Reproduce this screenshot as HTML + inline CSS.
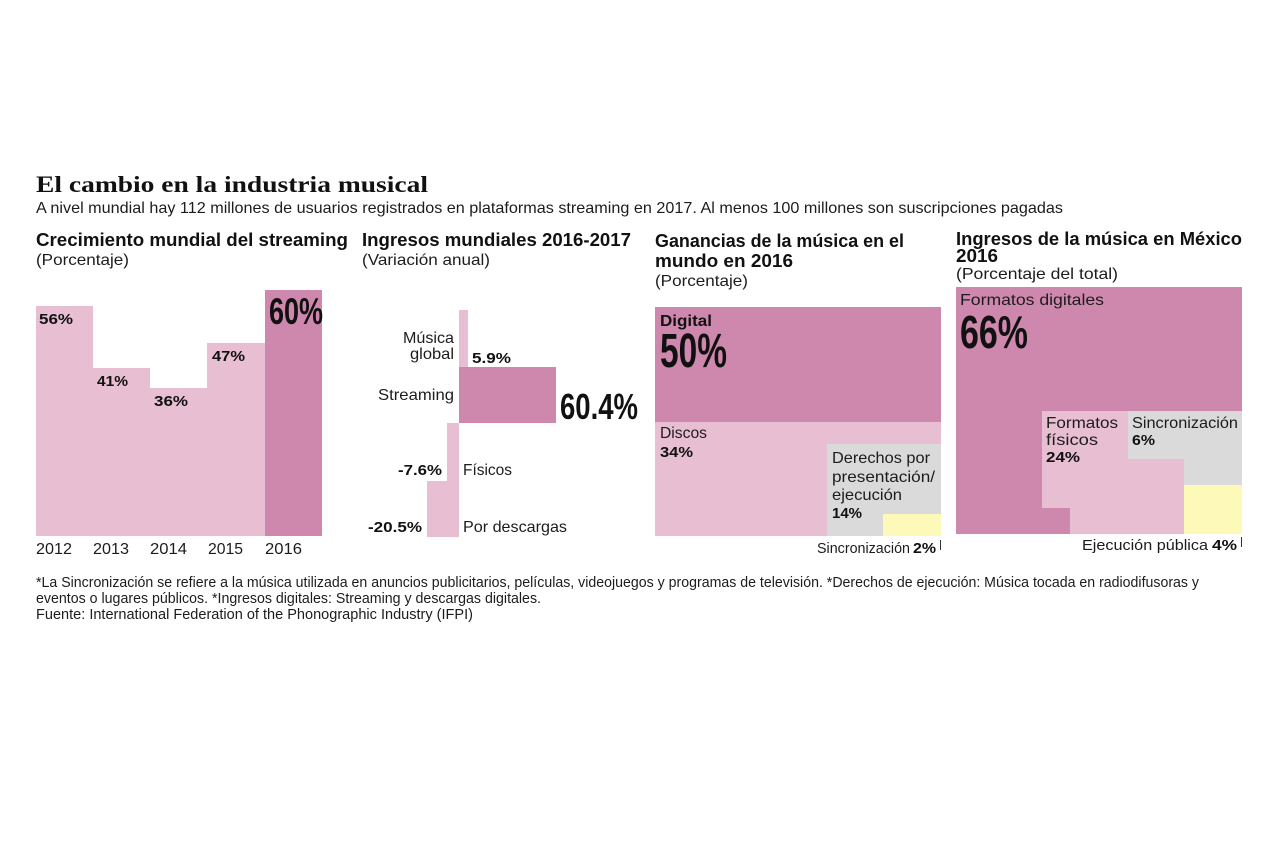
<!DOCTYPE html>
<html>
<head>
<meta charset="utf-8">
<style>
html,body{margin:0;padding:0;background:#fff;}
svg{display:block;}
.s{font-family:"Liberation Sans",sans-serif;fill:#1c1c1c;}
.b{font-family:"Liberation Sans",sans-serif;font-weight:bold;fill:#111;}
.c{font-family:"Liberation Sans Narrow","Liberation Sans",sans-serif;font-weight:bold;fill:#111;}
.t{font-family:"Liberation Serif",serif;font-weight:bold;fill:#111;}
</style>
</head>
<body>
<svg width="1280" height="853" viewBox="0 0 1280 853" xmlns="http://www.w3.org/2000/svg">
<rect width="1280" height="853" fill="#fff"/>

<!-- Title -->
<text class="t" x="36" y="192" font-size="23" textLength="392" lengthAdjust="spacingAndGlyphs">El cambio en la industria musical</text>
<text class="s" x="36" y="213" font-size="16" textLength="1027" lengthAdjust="spacingAndGlyphs">A nivel mundial hay 112 millones de usuarios registrados en plataformas streaming en 2017. Al menos 100 millones son suscripciones pagadas</text>

<!-- Headings -->
<text class="b" x="36" y="246" font-size="18" textLength="312" lengthAdjust="spacingAndGlyphs">Crecimiento mundial del streaming</text>
<text class="s" x="36" y="265" font-size="16" textLength="93" lengthAdjust="spacingAndGlyphs">(Porcentaje)</text>

<text class="b" x="362" y="246" font-size="18" textLength="269" lengthAdjust="spacingAndGlyphs">Ingresos mundiales 2016-2017</text>
<text class="s" x="362" y="265" font-size="16" textLength="128" lengthAdjust="spacingAndGlyphs">(Variación anual)</text>

<text class="b" x="655" y="247" font-size="18" textLength="249" lengthAdjust="spacingAndGlyphs">Ganancias de la música en el</text>
<text class="b" x="655" y="267" font-size="18" textLength="138" lengthAdjust="spacingAndGlyphs">mundo en 2016</text>
<text class="s" x="655" y="286" font-size="16" textLength="93" lengthAdjust="spacingAndGlyphs">(Porcentaje)</text>

<text class="b" x="956" y="245" font-size="18" textLength="286" lengthAdjust="spacingAndGlyphs">Ingresos de la música en México</text>
<text class="b" x="956" y="262" font-size="18" textLength="42" lengthAdjust="spacingAndGlyphs">2016</text>
<text class="s" x="956" y="279" font-size="16" textLength="162" lengthAdjust="spacingAndGlyphs">(Porcentaje del total)</text>

<!-- Chart 1 -->
<rect x="36" y="306" width="57" height="230" fill="#e8bed3"/>
<rect x="93" y="368" width="57" height="168" fill="#e8bed3"/>
<rect x="150" y="388" width="57" height="148" fill="#e8bed3"/>
<rect x="207" y="343" width="58" height="193" fill="#e8bed3"/>
<rect x="265" y="290" width="57" height="246" fill="#cf88ad"/>
<text class="b" x="39" y="324" font-size="15" textLength="34" lengthAdjust="spacingAndGlyphs">56%</text>
<text class="b" x="97" y="386" font-size="15" textLength="31" lengthAdjust="spacingAndGlyphs">41%</text>
<text class="b" x="154" y="406" font-size="15" textLength="34" lengthAdjust="spacingAndGlyphs">36%</text>
<text class="b" x="212" y="361" font-size="15" textLength="33" lengthAdjust="spacingAndGlyphs">47%</text>
<text class="c" x="269" y="324" font-size="37" textLength="54" lengthAdjust="spacingAndGlyphs">60%</text>
<text class="s" x="36" y="554" font-size="16" textLength="36" lengthAdjust="spacingAndGlyphs">2012</text>
<text class="s" x="93" y="554" font-size="16" textLength="36" lengthAdjust="spacingAndGlyphs">2013</text>
<text class="s" x="150" y="554" font-size="16" textLength="37" lengthAdjust="spacingAndGlyphs">2014</text>
<text class="s" x="208" y="554" font-size="16" textLength="35" lengthAdjust="spacingAndGlyphs">2015</text>
<text class="s" x="265" y="554" font-size="16" textLength="37" lengthAdjust="spacingAndGlyphs">2016</text>

<!-- Chart 2 -->
<rect x="459" y="310" width="9" height="57" fill="#e8bed3"/>
<rect x="459" y="367" width="97" height="56" fill="#cf88ad"/>
<rect x="447" y="423" width="12" height="58" fill="#e8bed3"/>
<rect x="427" y="481" width="32" height="56" fill="#e8bed3"/>
<text class="s" x="403" y="343" font-size="16" textLength="51" lengthAdjust="spacingAndGlyphs">Música</text>
<text class="s" x="410" y="359" font-size="16" textLength="44" lengthAdjust="spacingAndGlyphs">global</text>
<text class="b" x="472" y="363" font-size="15" textLength="39" lengthAdjust="spacingAndGlyphs">5.9%</text>
<text class="s" x="378" y="400" font-size="16" textLength="76" lengthAdjust="spacingAndGlyphs">Streaming</text>
<text class="c" x="560" y="419" font-size="36" textLength="78" lengthAdjust="spacingAndGlyphs">60.4%</text>
<text class="b" x="398" y="475" font-size="15" textLength="44" lengthAdjust="spacingAndGlyphs">-7.6%</text>
<text class="s" x="463" y="475" font-size="16" textLength="49" lengthAdjust="spacingAndGlyphs">Físicos</text>
<text class="b" x="368" y="532" font-size="15" textLength="54" lengthAdjust="spacingAndGlyphs">-20.5%</text>
<text class="s" x="463" y="532" font-size="16" textLength="104" lengthAdjust="spacingAndGlyphs">Por descargas</text>

<!-- Chart 3 -->
<rect x="655" y="307" width="286" height="115" fill="#cf88ad"/>
<rect x="655" y="422" width="286" height="114" fill="#e8bed3"/>
<rect x="827" y="444" width="114" height="92" fill="#dadada"/>
<rect x="883" y="514" width="58" height="22" fill="#fdf9b8"/>
<line x1="940.5" y1="540" x2="940.5" y2="550" stroke="#333" stroke-width="1"/>
<text class="b" x="660" y="326" font-size="16" textLength="52" lengthAdjust="spacingAndGlyphs">Digital</text>
<text class="c" x="660" y="367" font-size="48" textLength="67" lengthAdjust="spacingAndGlyphs">50%</text>
<text class="s" x="660" y="438" font-size="16" textLength="47" lengthAdjust="spacingAndGlyphs">Discos</text>
<text class="b" x="660" y="457" font-size="15" textLength="33" lengthAdjust="spacingAndGlyphs">34%</text>
<text class="s" x="832" y="463" font-size="16" textLength="98" lengthAdjust="spacingAndGlyphs">Derechos por</text>
<text class="s" x="832" y="482" font-size="16" textLength="103" lengthAdjust="spacingAndGlyphs">presentación/</text>
<text class="s" x="832" y="500" font-size="16" textLength="70" lengthAdjust="spacingAndGlyphs">ejecución</text>
<text class="b" x="832" y="518" font-size="15" textLength="30" lengthAdjust="spacingAndGlyphs">14%</text>
<text class="s" x="817" y="553" font-size="15" textLength="93" lengthAdjust="spacingAndGlyphs">Sincronización</text>
<text class="b" x="913" y="553" font-size="15" textLength="23" lengthAdjust="spacingAndGlyphs">2%</text>

<!-- Chart 4 -->
<rect x="956" y="287" width="286" height="247" fill="#cf88ad"/>
<polygon points="1042,411 1128,411 1128,459 1184,459 1184,534 1070,534 1070,508 1042,508" fill="#e8bed3"/>
<polygon points="1128,411 1242,411 1242,485 1184,485 1184,459 1128,459" fill="#dadada"/>
<rect x="1184" y="485" width="58" height="49" fill="#fdf9b8"/>
<line x1="1241.5" y1="537" x2="1241.5" y2="547" stroke="#333" stroke-width="1"/>
<text class="s" x="960" y="305" font-size="16" textLength="144" lengthAdjust="spacingAndGlyphs">Formatos digitales</text>
<text class="c" x="960" y="348" font-size="46" textLength="68" lengthAdjust="spacingAndGlyphs">66%</text>
<text class="s" x="1046" y="428" font-size="16" textLength="72" lengthAdjust="spacingAndGlyphs">Formatos</text>
<text class="s" x="1046" y="445" font-size="16" textLength="52" lengthAdjust="spacingAndGlyphs">físicos</text>
<text class="b" x="1046" y="462" font-size="15" textLength="34" lengthAdjust="spacingAndGlyphs">24%</text>
<text class="s" x="1132" y="428" font-size="16" textLength="106" lengthAdjust="spacingAndGlyphs">Sincronización</text>
<text class="b" x="1132" y="445" font-size="15" textLength="23" lengthAdjust="spacingAndGlyphs">6%</text>
<text class="s" x="1082" y="550" font-size="15" textLength="126" lengthAdjust="spacingAndGlyphs">Ejecución pública</text>
<text class="b" x="1212" y="550" font-size="15" textLength="25" lengthAdjust="spacingAndGlyphs">4%</text>

<!-- Footnotes -->
<text class="s" x="36" y="587" font-size="14.5" textLength="1163" lengthAdjust="spacingAndGlyphs">*La Sincronización se refiere a la música utilizada en anuncios publicitarios, películas, videojuegos y programas de televisión. *Derechos de ejecución: Música tocada en radiodifusoras y</text>
<text class="s" x="36" y="603" font-size="14.5" textLength="505" lengthAdjust="spacingAndGlyphs">eventos o lugares públicos. *Ingresos digitales: Streaming y descargas digitales.</text>
<text class="s" x="36" y="619" font-size="14.5" textLength="437" lengthAdjust="spacingAndGlyphs">Fuente: International Federation of the Phonographic Industry (IFPI)</text>
</svg>
</body>
</html>
